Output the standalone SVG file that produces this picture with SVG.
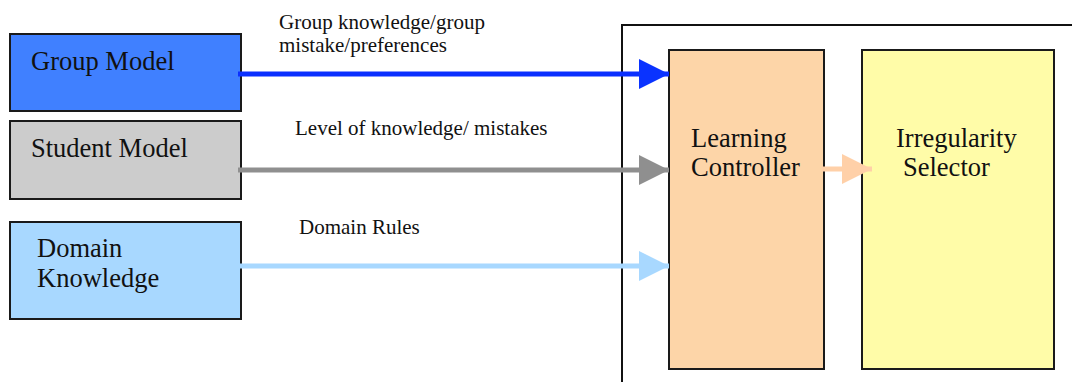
<svg xmlns="http://www.w3.org/2000/svg" width="1072" height="382" viewBox="0 0 1072 382">
<defs>
<style>
.box{stroke:#1a1a1a;stroke-width:2}
.t{font-family:"Liberation Serif","Times New Roman",serif;fill:#111}
.big{font-size:26.5px}
.lab{font-size:21px}
.ln{stroke-width:5;fill:none}
</style>
<marker id="ab" markerUnits="userSpaceOnUse" markerWidth="30" markerHeight="30" refX="30" refY="15" orient="auto" viewBox="0 0 30 30"><path d="M0,0 L30,15 L0,30 Z" fill="#0a33ff"/></marker>
<marker id="ag" markerUnits="userSpaceOnUse" markerWidth="30" markerHeight="30" refX="30" refY="15" orient="auto" viewBox="0 0 30 30"><path d="M0,0 L30,15 L0,30 Z" fill="#8f8f8f"/></marker>
<marker id="al" markerUnits="userSpaceOnUse" markerWidth="30" markerHeight="30" refX="30" refY="15" orient="auto" viewBox="0 0 30 30"><path d="M0,0 L30,15 L0,30 Z" fill="#a8d8ff"/></marker>
<marker id="ao" markerUnits="userSpaceOnUse" markerWidth="30" markerHeight="30" refX="30" refY="15" orient="auto" viewBox="0 0 30 30"><path d="M0,0 L30,15 L0,30 Z" fill="#ffd0a8"/></marker>
</defs>
<rect width="1072" height="382" fill="#fff"/>
<g id="container"><path d="M622,382 L622,25 L1072,25" fill="none" stroke="#111" stroke-width="2"/></g>
<g id="group-model"><rect class="box" x="10" y="34" width="231" height="77" fill="#4080ff"/><text class="t big" x="31" y="70">Group Model</text></g>
<g id="student-model"><rect class="box" x="10" y="121" width="231" height="78" fill="#cccccc"/><text class="t big" x="31" y="157">Student Model</text></g>
<g id="domain-knowledge"><rect class="box" x="10" y="222" width="231" height="97" fill="#a8d8ff"/><text class="t big" x="37" y="257">Domain</text><text class="t big" x="37" y="287">Knowledge</text></g>
<g id="learning-controller"><rect class="box" x="669" y="50" width="155" height="319" fill="#fdd5a8"/><text class="t big" x="691" y="147">Learning</text><text class="t big" x="691" y="176">Controller</text></g>
<g id="irregularity-selector"><rect class="box" x="862" y="50" width="192" height="319" fill="#fffca8"/><text class="t big" x="896" y="147">Irregularity</text><text class="t big" x="903" y="176">Selector</text></g>
<g id="connectors">
<line class="ln" x1="238" y1="74" x2="669" y2="74" stroke="#0a2fff" marker-end="url(#ab)"/>
<line class="ln" x1="238" y1="170" x2="669" y2="170" stroke="#8f8f8f" marker-end="url(#ag)"/>
<line class="ln" x1="238" y1="266" x2="669" y2="266" stroke="#a8d8ff" marker-end="url(#al)"/>
<line class="ln" x1="822" y1="169" x2="872" y2="169" stroke="#ffd0a8" marker-end="url(#ao)"/>
</g>
<g id="labels">
<text class="t lab" x="279" y="29">Group knowledge/group</text>
<text class="t lab" x="279" y="52">mistake/preferences</text>
<text class="t lab" x="295" y="135">Level of knowledge/ mistakes</text>
<text class="t lab" x="299" y="234">Domain Rules</text>
</g>
</svg>
